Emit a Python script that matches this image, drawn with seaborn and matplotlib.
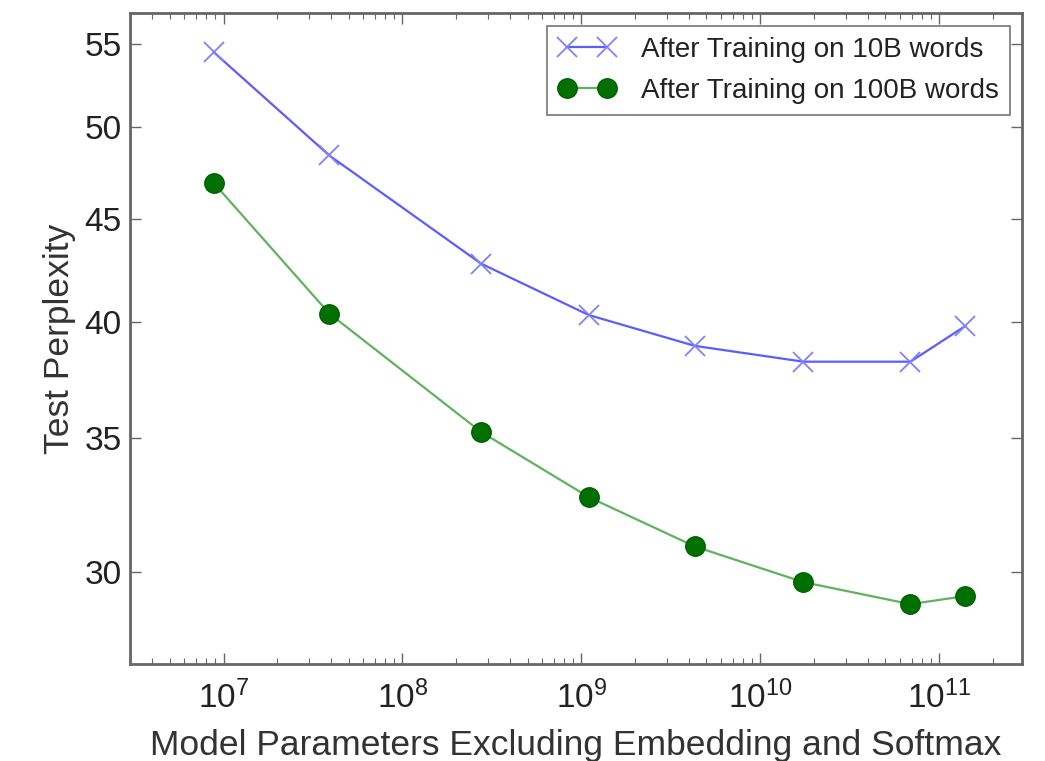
import matplotlib
matplotlib.use("Agg")
import matplotlib.pyplot as plt
import matplotlib.ticker as mticker
import seaborn as sns
import numpy as np

params_10b = [8.8e6, 3.9e7, 2.75e8, 1.1e9, 4.3e9, 1.74e10, 6.9e10, 1.4e11]
ppl_10b = [54.5, 48.4, 42.75, 40.3, 38.9, 38.2, 38.2, 39.8]
params_100b = [8.8e6, 3.9e7, 2.75e8, 1.1e9, 4.3e9, 1.74e10, 6.9e10, 1.4e11]
ppl_100b = [46.9, 40.37, 35.24, 32.7, 30.9, 29.66, 28.92, 29.19]
label_10b = "After Training on 10B words"
label_100b = "After Training on 100B words"
y_ticks = [30, 35, 40, 45, 50, 55]

sns.set_style("ticks")
plt.rcParams['font.family'] = ['Liberation Sans', 'DejaVu Sans']

fig = plt.figure(figsize=(10.45, 7.61), dpi=100)
left, right, bottom, top = 130 / 1045, 1022 / 1045, 1 - 664 / 761, 1 - 13 / 761
ax = fig.add_axes([left, bottom, right - left, top - bottom])

sns.lineplot(x=params_10b, y=ppl_10b, ax=ax, color="#5c5cff", linewidth=1.6,
             marker="x", markersize=14, markeredgewidth=1.3,
             markeredgecolor="#8080ff", label=label_10b)
sns.lineplot(x=params_100b, y=ppl_100b, ax=ax, color="#5fb35f", linewidth=1.6,
             marker="o", markersize=14, markerfacecolor="#007000",
             markeredgecolor="#006000", markeredgewidth=1.0, label=label_100b)

ax.set_xscale("log")
ax.set_yscale("log")
ax.set_xlim(3.0e6, 2.9e11)
ax.set_ylim(27, 57)
ax.yaxis.set_major_locator(mticker.FixedLocator(y_ticks))
ax.yaxis.set_major_formatter(mticker.FixedFormatter([str(t) for t in y_ticks]))
ax.yaxis.set_minor_locator(mticker.NullLocator())
ax.xaxis.set_major_locator(mticker.LogLocator(base=10))
ax.xaxis.set_minor_locator(mticker.LogLocator(base=10, subs=np.arange(2, 10), numticks=20))
ax.xaxis.set_minor_formatter(mticker.NullFormatter())

ax.tick_params(axis="both", which="major", direction="in", length=8, width=1,
               top=True, right=True, labelsize=24, color="#666666")
ax.tick_params(axis="y", which="major", pad=6)
ax.tick_params(axis="x", which="major", pad=12)
ax.tick_params(axis="x", which="minor", direction="in", length=4, width=0.8,
               top=True, color="#666666")
for s in ax.spines.values():
    s.set_color("#666666")
    s.set_linewidth(2)
    s.set_visible(True)

ax.set_xlabel("Model Parameters Excluding Embedding and Softmax", fontsize=25.5,
              color="#333333", labelpad=10)
ax.set_ylabel("Test Perplexity", fontsize=25.5, color="#333333", labelpad=6)
for t in ax.get_xticklabels() + ax.get_yticklabels():
    t.set_color("#222222")

leg = ax.legend(loc="upper right", fontsize=20, frameon=True, fancybox=False,
                edgecolor="#555555", borderpad=0.4, handlelength=2.05,
                handletextpad=0.9, labelspacing=0.55, borderaxespad=0.45,
                numpoints=2)
leg.get_frame().set_linewidth(1.2)
for t in leg.get_texts():
    t.set_color("#222222")

fig.savefig("out.png", dpi=100)
